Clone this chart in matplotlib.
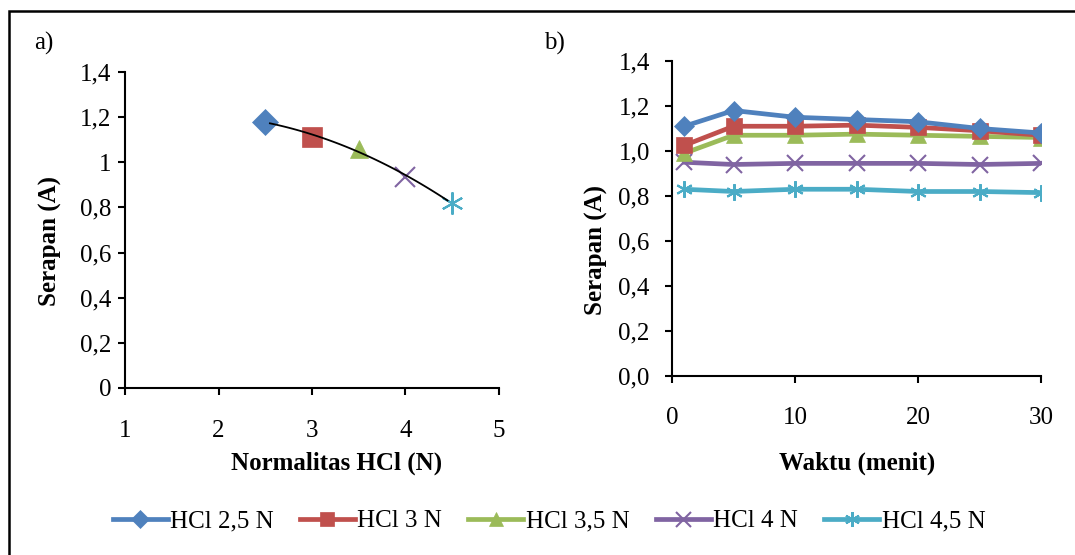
import numpy as np
import matplotlib
matplotlib.use("Agg")
import matplotlib.pyplot as plt
from matplotlib.patches import Rectangle

plt.rcParams['font.family'] = ['Liberation Serif', 'DejaVu Serif']

# ---- data ----
normalitas = [2.5, 3.0, 3.5, 4.0, 4.5]
serapan_norm = [1.18, 1.113, 1.058, 0.937, 0.818]

waktu = [1, 5, 10, 15, 20, 25, 30]
hcl_25 = [1.11, 1.18, 1.15, 1.14, 1.13, 1.10, 1.08]
hcl_3 = [1.025, 1.11, 1.11, 1.115, 1.105, 1.09, 1.07]
hcl_35 = [0.99, 1.07, 1.07, 1.075, 1.07, 1.065, 1.06]
hcl_4 = [0.95, 0.94, 0.945, 0.945, 0.945, 0.94, 0.945]
hcl_45 = [0.83, 0.82, 0.83, 0.83, 0.82, 0.82, 0.815]

labels = ['HCl 2,5 N', 'HCl 3 N', 'HCl 3,5 N', 'HCl 4 N', 'HCl 4,5 N']
left_xticks = [1, 2, 3, 4, 5]
left_yticks = [0, 0.2, 0.4, 0.6, 0.8, 1.0, 1.2, 1.4]
left_yticklabels = ['0', '0,2', '0,4', '0,6', '0,8', '1', '1,2', '1,4']
right_xticks = [0, 10, 20, 30]
right_yticks = [0, 0.2, 0.4, 0.6, 0.8, 1.0, 1.2, 1.4]
right_yticklabels = ['0,0', '0,2', '0,4', '0,6', '0,8', '1,0', '1,2', '1,4']

colors = ['#4F81BD', '#C0504D', '#9BBB59', '#8064A2', '#4BACC6']
markers = ['D', 's', '^', 'x', (6, 2, 0)]

W, H = 1075, 555
fig = plt.figure(figsize=(W / 100, H / 100), dpi=100)

def frac(x0, y0, x1, y1):
    return [x0 / W, 1 - y1 / H, (x1 - x0) / W, (y1 - y0) / H]

FS = 18

# ---- left chart ----
ax1 = fig.add_axes(frac(125, 72, 499, 388))
msizes = [13, 14, 13, 15, 16]
for i in range(5):
    ax1.plot([normalitas[i]], [serapan_norm[i]], linestyle='none',
             marker=markers[i], color=colors[i], markersize=msizes[i],
             markeredgewidth=1.5 if i >= 3 else 0.5, zorder=3)
coef = np.polyfit(normalitas, serapan_norm, 2)
xs = np.linspace(2.55, 4.45, 100)
ax1.plot(xs, np.polyval(coef, xs), color='black', lw=1.3, zorder=4)
ax1.set_xlim(1, 5)
ax1.set_ylim(0, 1.4)
ax1.set_xticks(left_xticks)
ax1.set_yticks(left_yticks)
ax1.set_yticklabels(left_yticklabels)
for s in ['top', 'right']:
    ax1.spines[s].set_visible(False)
for s in ['left', 'bottom']:
    ax1.spines[s].set_linewidth(1.5)
ax1.tick_params(axis='x', direction='out', length=5, width=1.5, pad=18, labelsize=FS)
ax1.tick_params(axis='y', direction='out', length=5, width=1.5, pad=5, labelsize=FS)
ax1.patch.set_alpha(0)

# ---- right chart ----
ax2 = fig.add_axes(frac(672, 61, 1041, 376))
series = [hcl_25, hcl_3, hcl_35, hcl_4, hcl_45]
msz2 = [10, 11, 11, 12, 12]
for i, ys in enumerate(series):
    ax2.plot(waktu, ys, color=colors[i], lw=3.4, marker=markers[i],
             markersize=msz2[i], markeredgewidth=1.5 if i >= 3 else 0.5,
             label=labels[i], zorder=3 + (5 - i) * 0.1)
ax2.set_xlim(0, 30)
ax2.set_ylim(0, 1.4)
ax2.set_xticks(right_xticks)
ax2.set_yticks(right_yticks)
ax2.set_yticklabels(right_yticklabels)
for s in ['top', 'right']:
    ax2.spines[s].set_visible(False)
for s in ['left', 'bottom']:
    ax2.spines[s].set_linewidth(1.5)
ax2.tick_params(axis='x', direction='out', length=5, width=1.5, pad=17, labelsize=FS)
ax2.tick_params(axis='y', direction='out', length=5, width=1.5, pad=11, labelsize=FS)
ax2.patch.set_alpha(0)

# ---- labels ----
fig.text(337 / W, 1 - 463 / H, 'Normalitas HCl (N)', ha='center', va='center',
         fontsize=FS, fontweight='bold')
fig.text(857 / W, 1 - 463 / H, 'Waktu (menit)', ha='center', va='center',
         fontsize=FS, fontweight='bold')
fig.text(50 / W, 1 - 241 / H, 'Serapan (A)', ha='center', va='center',
         rotation=90, fontsize=FS, fontweight='bold')
fig.text(596 / W, 1 - 250 / H, 'Serapan (A)', ha='center', va='center',
         rotation=90, fontsize=FS, fontweight='bold')
fig.text(34 / W, 1 - 43 / H, 'a)', ha='left', va='center', fontsize=FS)
fig.text(544 / W, 1 - 43 / H, 'b)', ha='left', va='center', fontsize=FS)

# ---- legend ----
handles, lbls = ax2.get_legend_handles_labels()
leg = fig.legend(handles, lbls, loc='center', bbox_to_anchor=(549 / W, 1 - 521 / H),
                 ncol=5, frameon=False, fontsize=FS, handlelength=2.2,
                 handletextpad=0.1, columnspacing=1.05, markerscale=0.9)

# ---- outer frame ----
fig.patches.append(Rectangle((9 / W, -0.1), 1.2, 1 - 11 / H + 0.1,
                             transform=fig.transFigure, fill=False,
                             edgecolor='black', lw=1.8, zorder=0))

fig.savefig('out.png', dpi=100)
